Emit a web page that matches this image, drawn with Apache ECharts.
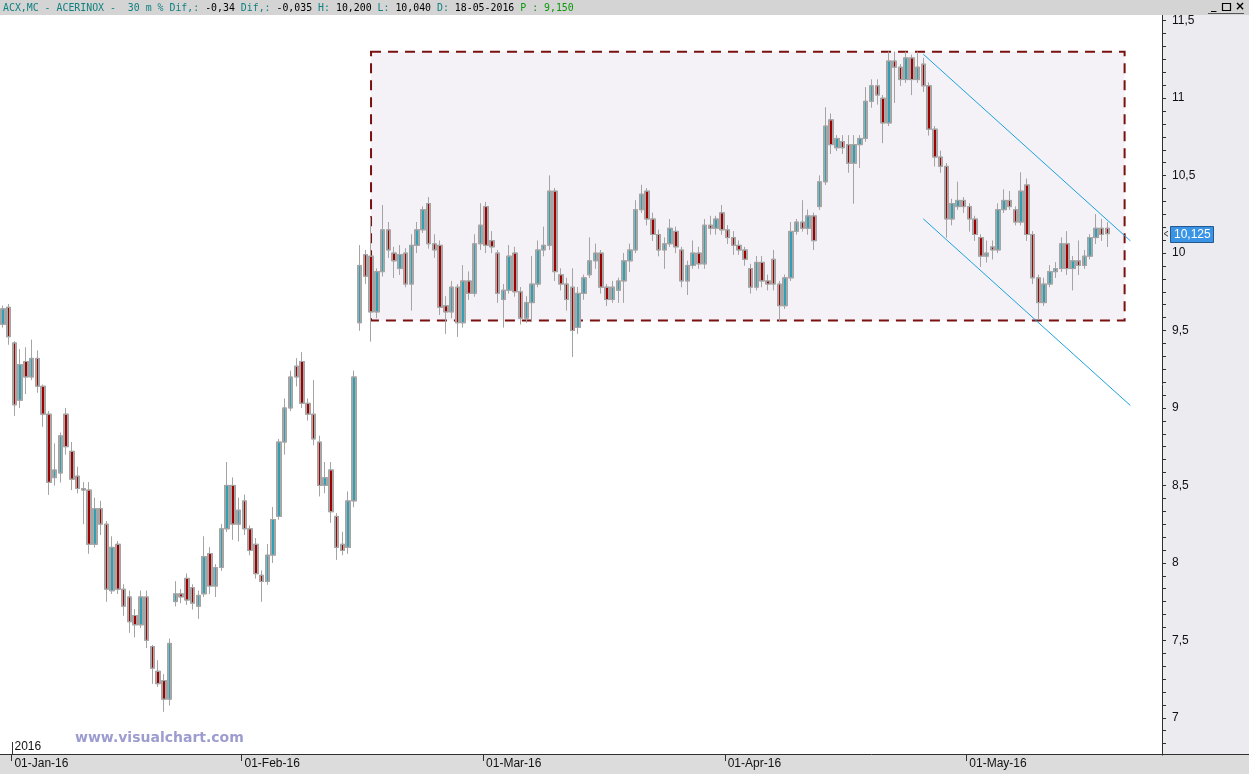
<!DOCTYPE html>
<html><head><meta charset="utf-8">
<script src="https://cdn.jsdelivr.net/npm/echarts@6/dist/echarts.min.js"></script>
<style>html,body{margin:0;padding:0;background:#fff;}#c{width:1249px;height:774px;}</style>
</head><body><div id="c"></div>
<script>
// ---- data ----
const monthLabels = ['01-Jan-16', '01-Feb-16', '01-Mar-16', '01-Apr-16', '01-May-16'];
const monthStartIdx = [2, 42, 84, 126, 168];
const slotCount = 202;
const opens = [9.54,9.65,9.42,9.05,9.30,9.20,9.32,9.14,8.96,8.55,8.58,8.96,8.72,8.56,8.48,8.47,8.12,8.35,8.25,7.82,
8.12,7.83,7.78,7.66,7.60,7.78,7.46,7.30,7.24,7.12,7.75,7.80,7.90,7.84,7.72,7.80,8.06,7.85,7.97,8.22,
8.50,8.25,8.40,8.22,8.12,7.92,7.88,8.05,8.30,8.78,9.00,9.27,9.30,9.03,8.96,8.78,8.50,8.60,8.30,8.12,
8.10,8.40,9.55,9.99,9.98,9.62,9.88,10.15,10.00,9.90,10.00,9.80,10.05,10.15,10.32,10.06,10.05,9.66,9.62,9.78,
9.55,9.82,9.74,10.06,10.30,10.08,10.00,9.70,9.76,10.00,9.75,9.58,9.68,9.80,10.02,10.05,10.40,9.86,9.80,9.78,
9.52,9.74,9.86,9.95,10.00,9.78,9.70,9.76,9.82,9.95,10.02,10.28,10.40,10.22,10.12,10.02,10.06,10.14,10.02,9.82,
9.92,10.00,9.93,10.18,10.16,10.26,10.15,10.10,10.05,10.02,9.90,9.78,9.94,9.82,9.96,9.80,9.66,9.84,10.14,10.20,
10.16,10.24,10.30,10.46,10.86,10.68,10.72,10.70,10.58,10.70,10.74,10.98,11.08,11.00,10.84,11.24,11.20,11.12,11.26,11.12,
11.22,11.08,10.80,10.62,10.56,10.22,10.30,10.34,10.30,10.22,10.10,9.98,10.04,10.02,10.28,10.34,10.28,10.20,10.44,10.12,
9.84,9.68,9.80,9.88,9.90,10.06,9.90,9.95,9.92,9.98,10.10,10.16,10.16];
const highs = [9.66,9.67,9.43,9.38,9.39,9.44,9.37,9.15,8.98,8.77,8.84,9.00,8.78,8.62,8.52,8.52,8.42,8.40,8.27,8.17,
8.14,7.86,7.82,7.70,7.82,7.82,7.47,7.37,7.28,7.51,7.88,7.83,7.93,7.86,7.82,8.17,8.10,7.99,8.25,8.65,
8.55,8.42,8.44,8.24,8.16,7.95,8.12,8.36,8.80,9.06,9.24,9.32,9.36,9.06,9.18,8.82,8.65,8.65,8.32,8.20,
8.46,9.24,10.05,10.02,10.23,9.90,10.31,10.20,10.04,10.05,10.03,10.12,10.20,10.30,10.36,10.12,10.08,9.72,9.82,9.80,
9.92,9.88,10.12,10.32,10.33,10.14,10.02,9.80,10.05,10.04,9.78,9.72,9.98,10.08,10.17,10.50,10.42,9.90,9.84,9.90,
9.78,9.86,10.10,10.06,10.02,9.80,9.82,9.84,10.00,10.06,10.34,10.44,10.42,10.26,10.15,10.10,10.22,10.17,10.04,9.95,
10.08,10.04,10.22,10.24,10.24,10.31,10.18,10.14,10.08,10.04,9.93,9.98,9.98,9.86,10.02,9.82,9.86,10.20,10.22,10.34,
10.28,10.26,10.50,10.94,10.90,10.76,10.76,10.76,10.76,10.76,11.07,11.12,11.12,11.02,11.30,11.30,11.22,11.30,11.28,11.30,
11.26,11.10,10.82,10.66,10.58,10.35,10.46,10.36,10.32,10.24,10.12,10.08,10.08,10.32,10.41,10.40,10.30,10.52,10.48,10.14,
9.86,9.84,9.92,9.94,10.10,10.14,9.98,10.08,10.02,10.12,10.25,10.22,10.20];
const lows = [9.52,9.41,8.95,9.00,9.09,9.18,9.10,8.88,8.44,8.50,8.52,8.70,8.47,8.45,8.25,8.06,8.10,8.18,7.75,7.80,
7.80,7.66,7.55,7.52,7.58,7.45,7.22,7.20,7.04,7.08,7.72,7.74,7.73,7.70,7.64,7.78,7.80,7.78,7.95,8.20,
8.15,8.14,8.18,8.05,7.90,7.75,7.86,8.00,8.28,8.70,8.98,9.14,9.00,8.92,8.76,8.43,8.45,8.26,8.02,8.05,
8.06,8.36,9.50,9.80,9.43,9.58,9.85,9.97,9.84,9.86,9.78,9.63,10.00,10.13,10.03,9.97,9.60,9.48,9.58,9.46,
9.52,9.70,9.72,10.02,10.00,10.00,9.68,9.52,9.74,9.72,9.54,9.55,9.56,9.78,9.98,10.02,9.82,9.76,9.63,9.33,
9.48,9.70,9.84,9.90,9.74,9.66,9.68,9.68,9.68,9.88,10.00,10.26,10.18,10.08,9.98,9.90,10.04,10.00,9.78,9.73,
9.90,9.90,9.90,10.12,10.12,10.12,10.06,9.99,9.99,9.92,9.74,9.76,9.78,9.76,9.76,9.56,9.64,9.82,10.12,10.14,
10.12,10.02,10.28,10.44,10.64,10.66,10.64,10.52,10.32,10.55,10.72,10.94,10.96,10.71,10.82,10.97,11.08,11.10,11.02,11.10,
11.04,10.76,10.56,10.52,10.10,10.18,10.28,10.26,10.14,10.08,9.91,9.94,9.96,10.00,10.26,10.28,10.18,10.18,10.08,9.80,
9.57,9.66,9.78,9.84,9.88,9.86,9.76,9.86,9.90,9.96,10.06,10.08,10.04];
const closes = [9.64,9.46,9.02,9.28,9.20,9.32,9.14,8.96,8.52,8.60,8.82,8.75,8.54,8.48,8.47,8.12,8.35,8.25,7.83,8.10,
7.83,7.72,7.62,7.60,7.78,7.50,7.32,7.22,7.12,7.48,7.80,7.78,7.76,7.74,7.79,8.04,7.85,7.97,8.22,8.50,
8.25,8.34,8.22,8.08,7.93,7.88,8.05,8.28,8.78,9.00,9.20,9.20,9.03,8.96,8.80,8.50,8.55,8.33,8.10,8.08,
8.40,9.20,9.92,9.85,9.62,9.88,10.15,10.02,9.95,9.99,9.80,10.05,10.15,10.28,10.06,10.02,9.65,9.62,9.78,9.55,
9.82,9.74,10.06,10.18,10.05,10.04,9.74,9.76,9.98,9.75,9.58,9.68,9.80,10.02,10.05,10.40,9.88,9.80,9.70,9.50,
9.74,9.84,9.95,10.00,9.78,9.70,9.78,9.82,9.95,10.02,10.28,10.38,10.22,10.12,10.02,10.06,10.16,10.04,9.82,9.92,
10.00,9.93,10.18,10.16,10.22,10.15,10.10,10.05,10.02,9.96,9.78,9.94,9.82,9.80,9.80,9.66,9.84,10.14,10.20,10.16,
10.24,10.08,10.46,10.82,10.70,10.74,10.68,10.58,10.70,10.74,10.98,11.08,11.02,10.84,11.24,11.20,11.12,11.26,11.12,11.20,
11.08,10.80,10.62,10.56,10.22,10.32,10.34,10.30,10.22,10.12,9.98,10.00,10.02,10.28,10.34,10.30,10.20,10.40,10.12,9.84,
9.68,9.80,9.88,9.90,10.06,9.90,9.95,9.92,9.98,10.10,10.16,10.12,10.125];
const yTickValues = [7, 7.5, 8, 8.5, 9, 9.5, 10, 10.5, 11, 11.5];
const rangeBoxX = [64, 195];
const rangeBoxY = [9.565, 11.30];
const channelUpper = [[160, 11.284], [196, 10.079]];
const channelLower = [[160, 10.221], [196, 9.016]];
const lastPrice = 10.125;
const yearLabel = '2016';

// ---- build ----
const categories = Array.from({length: slotCount}, (_, i) => String(i));
const ohlc = opens.map((o, i) => [o, closes[i], lows[i], highs[i]]);
const minorTicks = [];
for (let k = -2; k <= 54; k++) minorTicks.push(+(7 + k / 12).toFixed(5));
const comma = v => String(v).replace('.', ',');
const isMonthStart = i => monthStartIdx.indexOf(i) >= 0;
const bodyFill = (c) => new echarts.graphic.LinearGradient(0, 0, 1, 0, [
  {offset: 0, color: '#a8a8a8'}, {offset: 0.32, color: '#a8a8a8'},
  {offset: 0.33, color: c}, {offset: 0.67, color: c},
  {offset: 0.68, color: '#a8a8a8'}, {offset: 1, color: '#a8a8a8'}]);

const chart = echarts.init(document.getElementById('c'), null, {renderer: 'canvas'});
const FONT = '"Liberation Sans", Arial, sans-serif';

const option = {
  animation: false,
  backgroundColor: '#ffffff',
  grid: {left: 0, right: 87, top: 15, bottom: 20, containLabel: false},
  xAxis: {
    type: 'category', data: categories, boundaryGap: true,
    axisLine: {show: true, lineStyle: {color: '#303030', width: 1}},
    axisTick: {show: true, length: 7, interval: (i) => isMonthStart(i), lineStyle: {color: '#303030'}},
    axisLabel: {
      show: true, interval: (i) => isMonthStart(i),
      formatter: (v, i) => { const k = monthStartIdx.indexOf(i); return k >= 0 ? monthLabels[k] : ''; },
      align: 'left', margin: 4, color: '#111', fontFamily: FONT, fontSize: 12
    },
    splitLine: {show: false}
  },
  yAxis: {
    type: 'value', position: 'right', min: 6.766, max: 11.537, scale: true,
    axisLine: {show: true, lineStyle: {color: '#303030', width: 1}},
    axisTick: {show: true, length: 4, customValues: minorTicks, lineStyle: {color: '#303030'}},
    axisLabel: {show: true, customValues: yTickValues, formatter: comma, margin: 10,
      color: '#111', fontFamily: FONT, fontSize: 12},
    splitLine: {show: false}
  },
  series: [
    {
      type: 'line', name: 'box', data: [], z: 1, clip: false, silent: true,
      markArea: {
        silent: true,
        itemStyle: {color: '#f4f2f7', borderColor: '#7a1010', borderWidth: 2, borderType: [10, 7]},
        data: [[
          {xAxis: categories[rangeBoxX[0]], yAxis: rangeBoxY[1]},
          {xAxis: categories[rangeBoxX[1]], yAxis: rangeBoxY[0]}
        ]]
      }
    },
    {
      type: 'candlestick', name: 'ACX', data: ohlc, z: 3, barWidth: 5, silent: true,
      itemStyle: {color: bodyFill('#2f9fb4'), color0: bodyFill('#a00000'), borderColor: '#a4a4a4', borderColor0: '#a4a4a4', borderWidth: 1}
    },
    {
      type: 'line', name: 'marks', data: [], z: 4, clip: false, silent: true,
      markLine: {
        silent: true, symbol: 'none', animation: false,
        lineStyle: {color: '#1ba3dd', width: 1, type: 'solid'},
        label: {show: false},
        data: [
          [{coord: [categories[channelUpper[0][0]], channelUpper[0][1]]}, {coord: [categories[channelUpper[1][0]], channelUpper[1][1]]}],
          [{coord: [categories[channelLower[0][0]], channelLower[0][1]]}, {coord: [categories[channelLower[1][0]], channelLower[1][1]]}]
        ]
      }
    }
  ]
};
chart.setOption(option);

// decorations
const band = 1162 / slotCount;
const janX = Math.round(chart.convertToPixel({xAxisIndex: 0}, categories[monthStartIdx[0]]) - band / 2) + 0.5;
const priceY = chart.convertToPixel({yAxisIndex: 0}, lastPrice);
const rich = {
  t: {fill: '#118080', font: '9.9px "DejaVu Sans Mono", monospace'},
  k: {fill: '#000000', font: '9.9px "DejaVu Sans Mono", monospace'},
  g: {fill: '#0a9a0a', font: '9.9px "DejaVu Sans Mono", monospace'}
};
chart.setOption({
  graphic: {elements: [
    {type: 'rect', z: -5, silent: true, shape: {x: 1162.5, y: 15, width: 87, height: 739.5}, style: {fill: '#ecebf0'}},
    {type: 'rect', z: -5, silent: true, shape: {x: 0, y: 754.5, width: 1249, height: 20}, style: {fill: '#dcdcdc'}},
    {type: 'rect', z: 50, silent: true, shape: {x: 1159, y: 755.5, width: 6, height: 8}, style: {fill: '#dcdcdc'}},
    {type: 'line', z: 5, silent: true, shape: {x1: 1162, y1: 754.5, x2: 1249, y2: 754.5}, style: {stroke: '#303030', lineWidth: 1}},
    {type: 'polyline', z: 5, silent: true, shape: {points: [[1168, priceY - 2.5], [1164, priceY], [1168, priceY + 2.5]]}, style: {stroke: '#404040', fill: 'none', lineWidth: 1}},
    {type: 'rect', z: 20, silent: true, shape: {x: 1170.5, y: Math.round(priceY) - 7.5, width: 43, height: 16}, style: {fill: '#3a94e6', stroke: '#24588f', lineWidth: 1}},
    {type: 'text', z: 21, silent: true, x: 1174, y: Math.round(priceY) + 0.5, style: {text: comma(lastPrice), font: '12px "Liberation Sans"', fill: '#ffffff', verticalAlign: 'middle', align: 'left'}},
    {type: 'rect', z: 100, silent: true, shape: {x: 0, y: 0, width: 1249, height: 15}, style: {fill: '#d4d4d4'}},
    {type: 'text', z: 101, silent: true, x: 3, y: 8,
      style: {text: '{t|ACX,MC - ACERINOX -  30 m % Dif,: }{k|-0,34 }{t|Dif,: }{k|-0,035 }{t|H: }{k|10,200 }{t|L: }{k|10,040 }{t|D: }{k|18-05-2016 }{g|P : 9,150}',
        rich: rich, verticalAlign: 'middle', align: 'left', font: '9.9px "DejaVu Sans Mono", monospace'}},
    {type: 'text', z: 101, silent: true, x: 1211, y: 6, style: {text: '_', font: 'bold 11px "DejaVu Sans"', fill: '#000', verticalAlign: 'middle'}},
    {type: 'rect', z: 101, silent: true, shape: {x: 1222.5, y: 3.5, width: 8, height: 7}, style: {fill: 'none', stroke: '#000', lineWidth: 1.2}},
    {type: 'text', z: 101, silent: true, x: 1235, y: 7, style: {text: '×', font: 'bold 12px "DejaVu Sans"', fill: '#000', verticalAlign: 'middle'}},
    {type: 'line', z: 101, silent: true, shape: {x1: 1208, y1: 13.5, x2: 1244, y2: 13.5}, style: {stroke: '#555', lineWidth: 1}},
    {type: 'line', z: 6, silent: true, shape: {x1: janX, y1: 742, x2: janX, y2: 754}, style: {stroke: '#303030', lineWidth: 1}},
    {type: 'text', z: 6, silent: true, x: janX + 2, y: 747, style: {text: yearLabel, font: '12px "Liberation Sans"', fill: '#111', verticalAlign: 'middle'}},
    {type: 'text', z: 6, silent: true, x: 75, y: 738, style: {text: 'www.visualchart.com', font: 'bold 14px "DejaVu Sans"', fill: '#9c9cd0', verticalAlign: 'middle'}}
  ]}
});
</script>
</body></html>
